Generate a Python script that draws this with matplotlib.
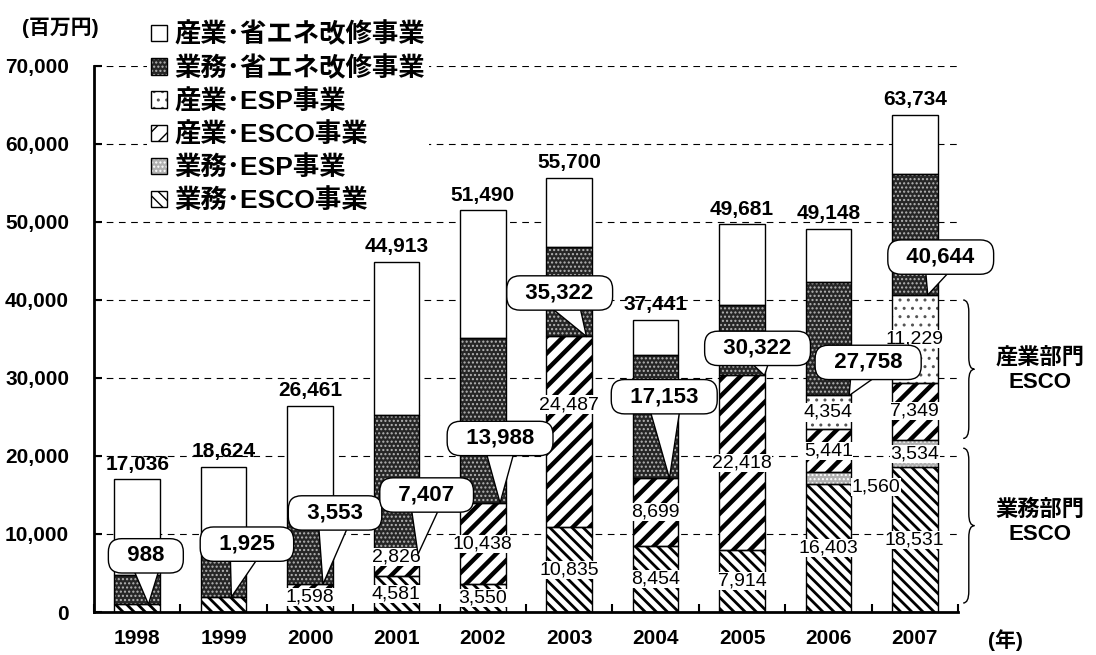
import numpy as np
import matplotlib
matplotlib.use("Agg")
import matplotlib.pyplot as plt
from matplotlib.path import Path
from matplotlib.patches import PathPatch, Patch
from matplotlib.legend_handler import HandlerTuple

plt.rcParams["font.family"] = ["Liberation Sans", "Noto Sans CJK JP"]

# data (百万円)
years = ["1998", "1999", "2000", "2001", "2002", "2003", "2004", "2005", "2006", "2007"]
totals = [17036, 18624, 26461, 44913, 51490, 55700, 37441, 49681, 49148, 63734]
esco_totals = [988, 1925, 3553, 7407, 13988, 35322, 17153, 30322, 27758, 40644]
gyomu_esco = [988, 1925, 1598, 4581, 3550, 10835, 8454, 7914, 16403, 18531]
gyomu_esp = [0, 0, 0, 0, 0, 0, 0, 0, 1560, 3534]
sangyo_esco = [0, 0, 1955, 2826, 10438, 24487, 8699, 22418, 5441, 7349]
sangyo_esp = [0, 0, 0, 0, 0, 0, 0, 0, 4354, 11229]
gyomu_shoene = [3700, 7700, 8450, 17800, 21200, 11500, 15750, 9000, 14550, 15550]
sangyo_shoene = [t - a - b - c - d - e for t, a, b, c, d, e in
                 zip(totals, gyomu_esco, gyomu_esp, sangyo_esco, sangyo_esp, gyomu_shoene)]

# which segment values are printed inside the bars
show_gyomu_esco = [False, False, True, True, True, True, True, True, True, True]
show_gyomu_esp = [False] * 8 + [True, True]
show_sangyo_esco = [False, False, False, True, True, True, True, True, True, True]
show_sangyo_esp = [False] * 8 + [True, True]

# callout box centres (layout only)
callout_x = [0.10, 1.27, 2.29, 3.35, 4.20, 4.89, 6.10, 7.18, 8.46, 9.30]
callout_y = [7200, 8700, 12700, 15000, 22250, 40900, 27600, 33800, 32000, 45500]
tip_dx = [0.13, 0.09, 0.15, 0.25, 0.20, 0.20, 0.16, 0.26, 0.24, 0.15]

# (series, year index) -> label position override (x offset, y)
label_override = {
    ("gyomu_esco", 2): (0.0, 1900),
    ("sangyo_esco", 3): (0.0, 7100),
    ("sangyo_esco", 5): (0.0, 26600),
    ("gyomu_esp", 8): (0.55, 16000),
}

series = [
    # name, values, face, hatch colour, hatch, hatch lw, legend label
    ("gyomu_esco", gyomu_esco, "white", "black", "\\\\\\", 2.0, "業務･ESCO事業"),
    ("gyomu_esp", gyomu_esp, "#b0b0b0", "white", "....", 1.0, "業務･ESP事業"),
    ("sangyo_esco", sangyo_esco, "white", "black", "//", 3.2, "産業･ESCO事業"),
    ("sangyo_esp", sangyo_esp, "white", "#555555", "..", 1.0, "産業･ESP事業"),
    ("gyomu_shoene", gyomu_shoene, "#262626", "#b5b5b5", "....", 1.0, "業務･省エネ改修事業"),
    ("sangyo_shoene", sangyo_shoene, "white", "white", "", 1.0, "産業･省エネ改修事業"),
]
shows = {
    "gyomu_esco": show_gyomu_esco,
    "gyomu_esp": show_gyomu_esp,
    "sangyo_esco": show_sangyo_esco,
    "sangyo_esp": show_sangyo_esp,
}


def draw_brace(ax, x0, y0, y1, w, r):
    """Draw a right-pointing curly brace from y0 to y1 at x0 (data coords)."""
    ym = (y0 + y1) / 2
    xm = x0 + w / 2
    verts = [
        (x0, y1), (xm, y1), (xm, y1 - r),
        (xm, ym + r),
        (xm, ym), (x0 + w, ym),
        (xm, ym), (xm, ym - r),
        (xm, y0 + r),
        (xm, y0), (x0, y0),
    ]
    codes = [Path.MOVETO, Path.CURVE3, Path.CURVE3, Path.LINETO,
             Path.CURVE3, Path.CURVE3, Path.CURVE3, Path.CURVE3,
             Path.LINETO, Path.CURVE3, Path.CURVE3]
    ax.add_patch(PathPatch(Path(verts, codes), fill=False, lw=1.0,
                           ec="black", clip_on=False, zorder=6))


fig = plt.figure(figsize=(10.96, 6.55), dpi=100)
ax = fig.add_axes([94 / 1096, 1 - 612 / 655, 864 / 1096, 546 / 655])

x = np.arange(len(years))
width = 0.53
bottom = np.zeros(len(years))
handles = {}
for name, vals, face, hcol, hatch, hlw, lab in series:
    vals = np.array(vals, dtype=float)
    with plt.rc_context({"hatch.linewidth": hlw}):
        bars = ax.bar(x, vals, width, bottom=bottom, color=face,
                      edgecolor=hcol, hatch=hatch, linewidth=0, zorder=2)
    for b in bars:
        if hasattr(b, "set_hatch_linewidth"):
            b.set_hatch_linewidth(hlw)
    mask = vals > 0
    ax.bar(x[mask], vals[mask], width, bottom=bottom[mask], fill=False,
           edgecolor="black", linewidth=1.0, zorder=3)
    proxy = Patch(facecolor=face, edgecolor=hcol, hatch=hatch, linewidth=0)
    if hasattr(proxy, "set_hatch_linewidth"):
        proxy.set_hatch_linewidth(hlw)
    outline = Patch(fill=False, edgecolor="black", linewidth=1.0)
    handles[name] = ((proxy, outline), lab)

    if name in shows:
        for i, v in enumerate(vals):
            if not shows[name][i]:
                continue
            dx, ly = 0.0, bottom[i] + v / 2
            if (name, i) in label_override:
                dx, ly = label_override[(name, i)]
            ax.text(i + dx, ly, f"{int(v):,}", ha="center", va="center",
                    fontsize=14, zorder=4,
                    bbox=dict(boxstyle="square,pad=0.03", fc="white", ec="none"))
    bottom = bottom + vals

esco_top = (np.array(gyomu_esco) + np.array(gyomu_esp)
            + np.array(sangyo_esco) + np.array(sangyo_esp))

# totals above bars
for i, t in enumerate(totals):
    ax.annotate(f"{t:,}", xy=(i, t), xytext=(0, 4), textcoords="offset points",
                ha="center", va="bottom", fontsize=15, fontweight="bold")

# ESCO total callouts
for i, v in enumerate(esco_totals):
    ax.annotate(
        f"  {v:,}  ", xy=(i + tip_dx[i], esco_top[i]),
        xytext=(callout_x[i], callout_y[i]), textcoords="data",
        ha="center", va="center", fontsize=16, fontweight="bold", zorder=5,
        bbox=dict(boxstyle="round,pad=0.3,rounding_size=0.6", fc="white",
                  ec="black", lw=1.0),
        arrowprops=dict(arrowstyle="wedge,tail_width=1.6,shrink_factor=0.5",
                        fc="white", ec="black", lw=1.0, shrinkA=0, shrinkB=0,
                        patchA=None, relpos=(0.5, 0.5)),
    )

# axes styling
ax.set_xlim(-0.5, 9.5)
ax.set_ylim(0, 70000)
ax.set_axisbelow(True)
for yv in range(10000, 70001, 10000):
    ax.axhline(yv, color="black", lw=0.8, ls=(0, (6, 5)), zorder=0)
ax.spines["top"].set_visible(False)
ax.spines["right"].set_visible(False)
ax.spines["left"].set_linewidth(2)
ax.spines["bottom"].set_linewidth(2)
ax.set_yticks(range(0, 70001, 10000))
ax.set_yticklabels([f"{v:,}" for v in range(0, 70001, 10000)],
                   fontsize=15, fontweight="bold")
ax.set_xticks(x)
ax.set_xticklabels(years, fontsize=15, fontweight="bold")
ax.set_xticks(np.arange(-0.5, 10, 1), minor=True)
ax.tick_params(axis="x", which="major", length=0, pad=12)
ax.tick_params(axis="x", which="minor", direction="in", length=6, width=1.5)
ax.tick_params(axis="y", direction="in", length=6, width=1.5, pad=18)

# braces and sector notes
draw_brace(ax, 9.56, 22250, 40000, 0.13, 1500)
draw_brace(ax, 9.56, 1150, 21000, 0.13, 1500)
ax.text(10.45, 31000, "産業部門\nESCO", ha="center", va="center", fontsize=16,
        fontweight="bold", clip_on=False, linespacing=1.15)
ax.text(10.45, 11500, "業務部門\nESCO", ha="center", va="center", fontsize=16,
        fontweight="bold", clip_on=False, linespacing=1.15)

order = ["sangyo_shoene", "gyomu_shoene", "sangyo_esp", "sangyo_esco",
         "gyomu_esp", "gyomu_esco"]
leg = fig.legend([handles[k][0] for k in order], [handles[k][1] for k in order],
                 handler_map={tuple: HandlerTuple(ndivide=1)},
                 loc="upper left", bbox_to_anchor=(0.122, 0.993),
                 prop=dict(size=19, weight="bold"), handlelength=0.6,
                 handleheight=0.6, handletextpad=0.3, labelspacing=0.3,
                 borderpad=0.15, frameon=True, fancybox=False,
                 facecolor="white", edgecolor="none", framealpha=1)
leg.set_zorder(10)

fig.text(60 / 1096, 1 - 28 / 655, "(百万円)", ha="center", va="center",
         fontsize=15, fontweight="bold")
fig.text(1005 / 1096, 1 - 640 / 655, "(年)", ha="center", va="center",
         fontsize=15, fontweight="bold")

fig.savefig("out.png", dpi=100)
